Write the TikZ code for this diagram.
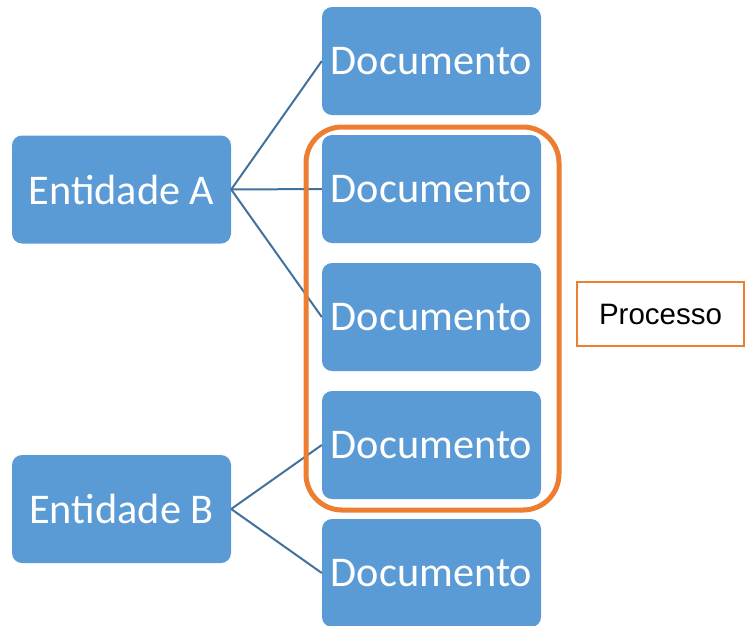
\documentclass[tikz,border=0pt]{standalone}
\usepackage{fontspec}
\setmainfont{Carlito}
\newfontfamily\arialfont{Liberation Sans}
\definecolor{boxblue}{HTML}{5B9BD5}
\definecolor{lineblue}{HTML}{41719C}
\definecolor{accentorange}{HTML}{ED7D31}
\begin{document}
\begin{tikzpicture}[x=1pt,y=-1pt,
  bluebox/.style={fill=boxblue, draw=none, rounded corners=10pt, minimum width=219pt, minimum height=108pt, inner sep=0pt, text=white, font=\fontsize{42.3}{48}\selectfont},
  link/.style={draw=lineblue, line width=2pt},
  groupframe/.style={draw=accentorange, line width=5pt, rounded corners=36pt, minimum width=253pt, minimum height=383pt, inner sep=0pt},
  labelbox/.style={draw=accentorange, line width=2.5pt, fill=white, minimum width=167pt, minimum height=64pt, inner sep=0pt, font=\arialfont\fontsize{29.5}{33}\selectfont}
]
\useasboundingbox (0,0) rectangle (750,625);
\node[bluebox] (ea) at (121.5,189.5) {Entidade A};
\node[bluebox] (eb) at (121.5,509) {Entidade B};
\node[bluebox] (d1) at (431.5,61) {Documento};
\node[bluebox] (d2) at (431.5,189) {Documento};
\node[bluebox] (d3) at (431.5,317) {Documento};
\node[bluebox] (d4) at (431.5,445) {Documento};
\node[bluebox] (d5) at (431.5,573) {Documento};
\draw[link] (ea.east) -- (d1.west);
\draw[link] (ea.east) -- (d2.west);
\draw[link] (ea.east) -- (d3.west);
\draw[link] (eb.east) -- (d4.west);
\draw[link] (eb.east) -- (d5.west);
\node[groupframe] (grp) at (432.5,318.5) {};
\node[labelbox] (proc) at (660.5,314) {Processo};
\end{tikzpicture}
\end{document}
